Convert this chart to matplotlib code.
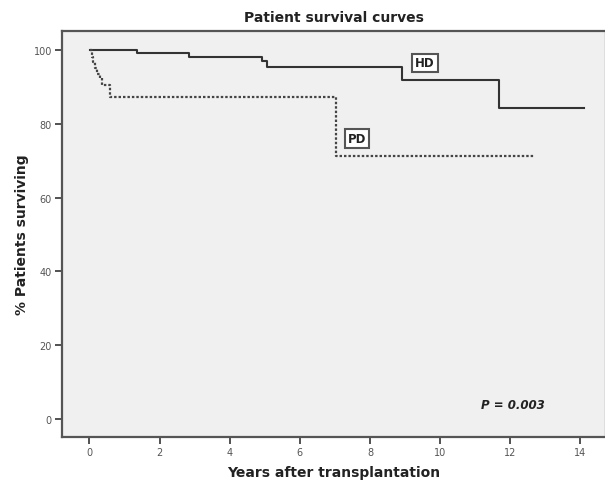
import matplotlib
matplotlib.use("Agg")
import matplotlib.pyplot as plt

# Kaplan-Meier steps (years, % surviving)
hd_years = [0.02, 1.35, 2.83, 4.93, 5.07, 8.90, 11.67, 14.10]
hd_surv = [100.0, 99.1, 98.2, 97.1, 95.3, 92.0, 84.4, 84.4]

pd_years = [0.02, 0.07, 0.11, 0.16, 0.23, 0.31, 0.35, 0.59, 7.02, 12.69]
pd_surv = [100.0, 98.2, 96.8, 95.0, 93.6, 92.3, 90.5, 87.2, 71.2, 71.2]

x_ticks = [0, 2, 4, 6, 8, 10, 12, 14]
y_ticks = [0, 20, 40, 60, 80, 100]

spine_col = "#555555"

fig = plt.figure(figsize=(6.05, 4.81), dpi=100)
ax = fig.add_axes([0.102, 0.0894, 0.899, 0.8451])
ax.set_facecolor("#f0f0f0")

ax.step(hd_years, hd_surv, where="post", color="#333333", lw=1.5)
ax.step(pd_years, pd_surv, where="post", color="#444444", lw=1.6,
        linestyle=(0, (1.1, 0.9)))

box = dict(boxstyle="square,pad=0.25", fc="white", ec="#555555", lw=1.5)
ax.text(9.57, 96.5, "HD", ha="center", va="center", fontsize=8.5,
        fontweight="bold", color="#222222", bbox=box)
ax.text(7.63, 76.0, "PD", ha="center", va="center", fontsize=8.5,
        fontweight="bold", color="#222222", bbox=box)
ax.text(12.08, 3.8, "P = 0.003", ha="center", va="center", fontsize=8.5,
        fontweight="bold", fontstyle="italic", color="#222222")

ax.set_xlim(-0.79, 14.72)
ax.set_ylim(-4.9, 105.3)
ax.set_xticks(x_ticks)
ax.set_yticks(y_ticks)
ax.tick_params(direction="out", length=5, width=1.2, color="#333333",
               labelsize=7, labelcolor="#555555", pad=2)

for s in ax.spines.values():
    s.set_color(spine_col)
    s.set_linewidth(1.6)

ax.set_title("Patient survival curves", fontsize=10, fontweight="bold",
             color="#222222", pad=7)
ax.set_xlabel("Years after transplantation", fontsize=10, fontweight="bold",
              color="#222222", labelpad=6)
ax.set_ylabel("% Patients surviving", fontsize=10, fontweight="bold",
              color="#222222", labelpad=3)

fig.savefig("out.png", dpi=100, facecolor="white")
